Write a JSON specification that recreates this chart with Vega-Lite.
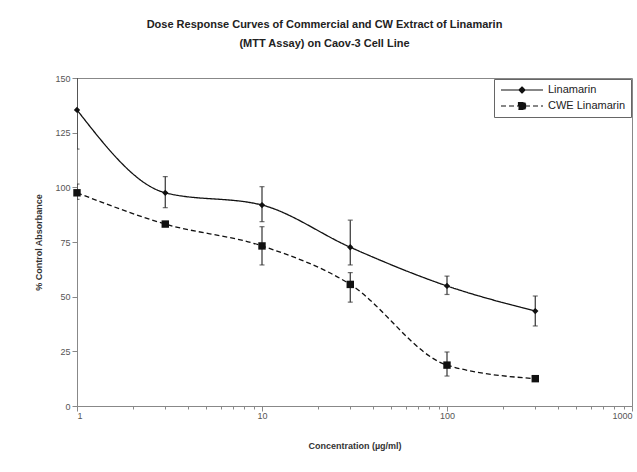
{
  "$schema": "https://vega.github.io/schema/vega-lite/v6.json",
  "width": 555,
  "height": 328,
  "autosize": "none",
  "padding": {"left": 77, "top": 78, "right": 5, "bottom": 66},
  "background": "white",
  "title": {
    "text": ["Dose Response Curves of Commercial and CW Extract of Linamarin", "(MTT Assay) on Caov-3 Cell Line"],
    "font": "Liberation Sans",
    "fontSize": 11,
    "fontWeight": "bold",
    "color": "#222",
    "anchor": "middle",
    "dx": -30,
    "offset": 25,
    "lineHeight": 19
  },
  "config": {
    "view": {"stroke": "#888", "strokeWidth": 1},
    "axis": {
      "labelFont": "Liberation Sans",
      "titleFont": "Liberation Sans",
      "labelFontSize": 9,
      "titleFontSize": 9,
      "titleFontWeight": "bold",
      "labelColor": "#555",
      "titleColor": "#333",
      "domainColor": "#888",
      "tickColor": "#888",
      "grid": false
    }
  },
  "data": {
    "values": [
      {"series": "Linamarin", "conc": 1, "mean": 135.4, "lo": 117.5, "hi": 153.3},
      {"series": "Linamarin", "conc": 3, "mean": 97.5, "lo": 90.7, "hi": 104.9},
      {"series": "Linamarin", "conc": 10, "mean": 91.9, "lo": 84.3, "hi": 100.3},
      {"series": "Linamarin", "conc": 30, "mean": 72.6, "lo": 64.5, "hi": 85},
      {"series": "Linamarin", "conc": 100, "mean": 54.9, "lo": 51, "hi": 59.4},
      {"series": "Linamarin", "conc": 300, "mean": 43.4, "lo": 36.6, "hi": 50.3},
      {"series": "CWE Linamarin", "conc": 1, "mean": 97.5, "lo": 94.5, "hi": 101.5},
      {"series": "CWE Linamarin", "conc": 3, "mean": 83.2, "lo": null, "hi": null},
      {"series": "CWE Linamarin", "conc": 10, "mean": 73.2, "lo": 64.5, "hi": 82},
      {"series": "CWE Linamarin", "conc": 30, "mean": 55.6, "lo": 47.5, "hi": 61},
      {"series": "CWE Linamarin", "conc": 100, "mean": 18.7, "lo": 13.7, "hi": 24.7},
      {"series": "CWE Linamarin", "conc": 300, "mean": 12.5, "lo": null, "hi": null}
    ]
  },
  "encoding": {
    "x": {
      "field": "conc",
      "type": "quantitative",
      "scale": {"type": "log", "domain": [1, 1000]},
      "axis": {
        "title": "Concentration (µg/ml)",
        "values": [1,2,3,4,5,6,7,8,9,10,20,30,40,50,60,70,80,90,100,200,300,400,500,600,700,800,900,1000],
        "labelExpr": "indexof([1,10,100,1000], datum.value) >= 0 ? format(datum.value, 'd') : ''",
        "labelOverlap": false,
        "labelPadding": 0,
        "tickSize": {"condition": {"test": "indexof([1,10,100,1000], datum.value) >= 0", "value": 5}, "value": 3},
        "titlePadding": 21
      }
    }
  },
  "layer": [
    {
      "mark": {"type": "line", "interpolate": "monotone", "color": "#111", "strokeWidth": 1.3},
      "encoding": {
        "y": {
          "field": "mean",
          "type": "quantitative",
          "scale": {"domain": [0, 150], "nice": false},
          "axis": {
            "title": "% Control Absorbance",
            "values": [0, 25, 50, 75, 100, 125, 150],
            "tickSize": 5,
            "titlePadding": 11
          }
        },
        "strokeDash": {
          "field": "series",
          "type": "nominal",
          "scale": {"domain": ["Linamarin", "CWE Linamarin"], "range": [[1, 0], [5, 3]]},
          "legend": {
            "title": null,
            "orient": "top-right",
            "offset": 1,
            "padding": 5,
            "strokeColor": "#666",
            "fillColor": "white",
            "labelFont": "Liberation Sans",
            "labelFontSize": 11,
            "labelColor": "#222",
            "symbolSize": 100,
            "symbolStrokeWidth": 1.2,
            "symbolStrokeColor": "#111",
            "symbolFillColor": "#111",
            "symbolOffset": 17,
            "labelOffset": 20,
            "rowPadding": 4,
            "encode": {
              "symbols": {
                "update": {
                  "shape": {"signal": "datum.value == 'Linamarin' ? 'M-4.2,0L4.2,0M-0.6,0L0,-0.6L0.6,0L0,0.6Z' : 'M-4.2,0L4.2,0M-0.7,-0.7L0.7,-0.7L0.7,0.7L-0.7,0.7Z'"},
                  "fill": {"value": "#111"},
                  "stroke": {"value": "#111"}
                }
              }
            }
          }
        }
      }
    },
    {
      "transform": [{"filter": "datum.lo != null"}],
      "mark": {"type": "errorbar", "ticks": {"clip": true}, "rule": {"clip": true}, "clip": true, "color": "#333", "thickness": 1.2},
      "encoding": {
        "y": {"field": "lo", "type": "quantitative", "scale": {"domain": [0, 150], "nice": false}, "title": "% Control Absorbance"},
        "y2": {"field": "hi"}
      }
    },
    {
      "transform": [{"filter": "datum.series == 'Linamarin'"}],
      "mark": {"type": "point", "filled": true, "color": "#111", "opacity": 1, "shape": "diamond", "size": 40},
      "encoding": {
        "y": {"field": "mean", "type": "quantitative", "scale": {"domain": [0, 150], "nice": false}}
      }
    },
    {
      "transform": [{"filter": "datum.series == 'CWE Linamarin'"}],
      "mark": {"type": "point", "filled": true, "color": "#111", "opacity": 1, "shape": "square", "size": 55},
      "encoding": {
        "y": {"field": "mean", "type": "quantitative", "scale": {"domain": [0, 150], "nice": false}}
      }
    }
  ]
}
